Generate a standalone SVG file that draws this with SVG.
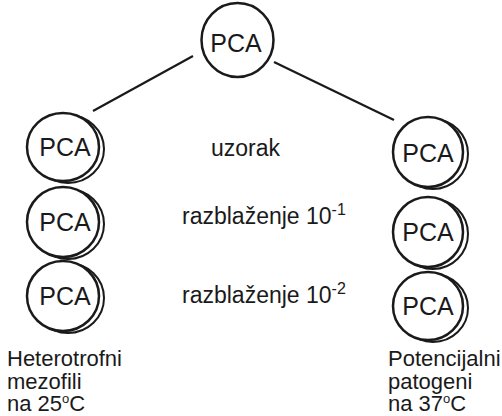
<svg xmlns="http://www.w3.org/2000/svg" width="502" height="416" viewBox="0 0 502 416">
<style>
.c{fill:#fff;stroke:#1a1a1a;stroke-width:2.5}
.s{fill:none;stroke:#1a1a1a;stroke-width:2}
.t{font-family:"Liberation Sans",Arial,sans-serif;font-size:25px;fill:#1a1a1a;text-anchor:middle}
.l{font-family:"Liberation Sans",Arial,sans-serif;font-size:22px;fill:#1a1a1a}
.m{font-family:"Liberation Sans",Arial,sans-serif;font-size:23px;fill:#1a1a1a}
.ln{stroke:#1a1a1a;stroke-width:2.2;fill:none}
</style>
<g id="connectors">
<line class="ln" x1="193" y1="56" x2="93" y2="111"/>
<line class="ln" x1="274" y1="62" x2="394" y2="120"/>
</g>
<g id="top">
<ellipse class="c" cx="237.5" cy="40" rx="36" ry="37"/>
<text class="t" x="236" y="52">PCA</text>
</g>
<g id="left1">
<ellipse class="s" cx="68" cy="149" rx="36" ry="34"/>
<ellipse class="c" cx="63" cy="147" rx="36" ry="34"/>
<text class="t" x="65" y="156">PCA</text>
</g>
<g id="left2">
<ellipse class="s" cx="68" cy="224" rx="36" ry="35"/>
<ellipse class="c" cx="63" cy="222" rx="36" ry="35"/>
<text class="t" x="65" y="231">PCA</text>
</g>
<g id="left3">
<ellipse class="s" cx="68" cy="298" rx="36" ry="35"/>
<ellipse class="c" cx="63" cy="296" rx="36" ry="35"/>
<text class="t" x="65" y="305">PCA</text>
</g>
<g id="right1">
<ellipse class="s" cx="433" cy="154" rx="35" ry="35"/>
<ellipse class="c" cx="428" cy="152" rx="35" ry="35"/>
<text class="t" x="428" y="162">PCA</text>
</g>
<g id="right2">
<ellipse class="s" cx="433" cy="234" rx="35" ry="35"/>
<ellipse class="c" cx="428" cy="232" rx="35" ry="35"/>
<text class="t" x="428" y="241">PCA</text>
</g>
<g id="right3">
<ellipse class="s" cx="433" cy="308" rx="35" ry="34"/>
<ellipse class="c" cx="428" cy="306" rx="35" ry="34"/>
<text class="t" x="428" y="315">PCA</text>
</g>
<g id="labels">
<text class="m" x="211" y="156">uzorak</text>
<text class="m" x="182" y="224">razblaženje 10<tspan font-size="16" dy="-9">-1</tspan></text>
<text class="m" x="182" y="303">razblaženje 10<tspan font-size="16" dy="-9">-2</tspan></text>
<text class="l" x="7" y="366">Heterotrofni</text>
<text class="l" x="7" y="388.5">mezofili</text>
<text class="l" x="7" y="411">na 25<tspan font-size="13" dy="-8">o</tspan><tspan dy="8">C</tspan></text>
<text class="l" x="388" y="366">Potencijalni</text>
<text class="l" x="388" y="388.5">patogeni</text>
<text class="l" x="388" y="411">na 37<tspan font-size="13" dy="-8">o</tspan><tspan dy="8">C</tspan></text>
</g>
</svg>
